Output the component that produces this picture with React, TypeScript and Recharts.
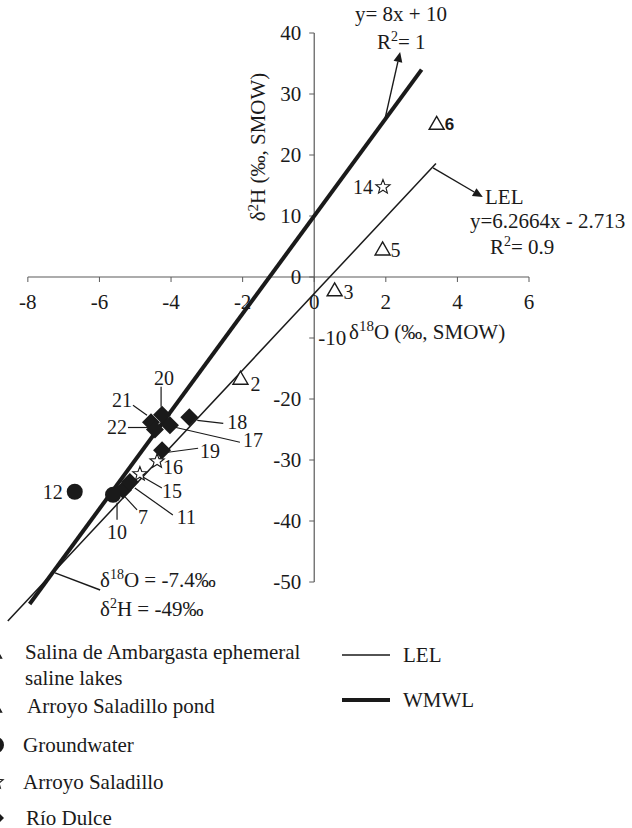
import React from 'react'
import { ScatterChart, Scatter, XAxis, YAxis, ReferenceLine, ReferenceDot } from 'recharts'

const SERIF = "'Liberation Serif', 'Times New Roman', serif"
const SANS = "'Liberation Sans', Arial, sans-serif"
const INK = '#1a1a1a'
const AXIS = '#5a5a5a'

// axis ticks
const xTicks = [-8, -6, -4, -2, 0, 2, 4, 6]
const yTicks = [-50, -40, -30, -20, -10, 0, 10, 20, 30, 40]

// samples: id, δ18O, δ2H
const lakeIds = ['2', '3', '5']
const lakeO18 = [-2.06, 0.57, 1.91]
const lakeH2 = [-16.6, -2.1, 4.6]

const pondIds = ['6']
const pondO18 = [3.42]
const pondH2 = [25.2]

const gwIds = ['10', '12']
const gwO18 = [-5.62, -6.69]
const gwH2 = [-35.7, -35.2]

const arroyoIds = ['14', '15', '16']
const arroyoO18 = [1.92, -4.87, -4.39]
const arroyoH2 = [14.75, -32.3, -30.2]

const dulceIds = ['7', '11', '17', '18', '19', '20', '21', '22']
const dulceO18 = [-5.34, -5.15, -4.03, -3.49, -4.25, -4.25, -4.56, -4.45]
const dulceH2 = [-34.9, -33.6, -24.3, -23.0, -28.4, -22.6, -23.8, -25.0]

// line end points
const wmwlO18 = [-7.95, 3.0]
const wmwlH2 = [-53.6, 34.0]
const lelO18 = [-8.56, 3.4]
const lelH2 = [-56.4, 18.6]

const legendNames = ['Salina de Ambargasta ephemeral|saline lakes', 'Arroyo Saladillo pond', 'Groundwater', 'Arroyo Saladillo', 'Río Dulce']
const lineLegend = ['LEL', 'WMWL']

const pts = (ids: string[], o: number[], h: number[]) => ids.map((id, i) => ({ id, x: o[i], y: h[i] }))
const seg = (o: number[], h: number[]) => o.map((x, i) => ({ x, y: h[i] }))

// label placement, pixels from the point centre
type Lbl = { dx: number; dy: number; anchor?: 'start' | 'middle' | 'end'; lead?: number[]; sans?: boolean }
const LABELS: Record<string, Lbl> = {
  '2': { dx: 10, dy: 13 },
  '3': { dx: 9, dy: 9 },
  '5': { dx: 8, dy: 8 },
  '6': { dx: 8, dy: 7, sans: true },
  '14': { dx: -10, dy: 7, anchor: 'end' },
  '12': { dx: -12, dy: 7, anchor: 'end' },
  '20': { dx: 2, dy: -30, anchor: 'middle', lead: [-1, -28, -1, -8] },
  '21': { dx: -19, dy: -15, anchor: 'end', lead: [-18, -17, -4, -7] },
  '22': { dx: -28, dy: 4, anchor: 'end', lead: [-27, -2, -7, -2] },
  '17': { dx: 73, dy: 22, lead: [5, 2, 70, 17] },
  '18': { dx: 38, dy: 12, lead: [8, 3, 34, 6] },
  '19': { dx: 38, dy: 8, lead: [6, 2, 36, -2] },
  '16': { dx: 6, dy: 13 },
  '15': { dx: 22, dy: 24, lead: [3, 3, 22, 14] },
  '11': { dx: 47, dy: 42, lead: [5, 6, 43, 33] },
  '7': { dx: 15, dy: 34, lead: [2, 7, 14, 20] },
  '10': { dx: 4, dy: 44, anchor: 'middle', lead: [4, 8, 4, 25] },
}

function SampleLabel({ id, cx, cy }: { id: string; cx: number; cy: number }) {
  const l = LABELS[id]
  if (!l) return null
  return (
    <g>
      {l.lead && (
        <line x1={cx + l.lead[0]} y1={cy + l.lead[1]} x2={cx + l.lead[2]} y2={cy + l.lead[3]} stroke={INK} strokeWidth={1.2} />
      )}
      <text
        x={cx + l.dx}
        y={cy + l.dy}
        textAnchor={l.anchor || 'start'}
        fontFamily={l.sans ? SANS : SERIF}
        fontSize={l.sans ? 17 : 20}
        fontWeight={l.sans ? 'bold' : 'normal'}
        fill={INK}
      >
        {id}
      </text>
    </g>
  )
}

const trianglePath = (cx: number, cy: number) => `M${cx},${cy - 7} L${cx + 7.5},${cy + 6} L${cx - 7.5},${cy + 6} Z`
const diamondPath = (cx: number, cy: number, r: number) => `M${cx},${cy - r} L${cx + r},${cy} L${cx},${cy + r} L${cx - r},${cy} Z`
const starPath = (cx: number, cy: number, R: number, r: number) => {
  let d = ''
  for (let i = 0; i < 10; i++) {
    const rad = i % 2 === 0 ? R : r
    const a = -Math.PI / 2 + (i * Math.PI) / 5
    d += `${i === 0 ? 'M' : 'L'}${cx + rad * Math.cos(a)},${cy + rad * Math.sin(a)} `
  }
  return d + 'Z'
}

const TriangleShape = (p: any) => (
  <g>
    <path d={trianglePath(p.cx, p.cy)} fill="#fff" stroke={INK} strokeWidth={1.4} />
    <SampleLabel id={p.payload.id} cx={p.cx} cy={p.cy} />
  </g>
)
const CircleShape = (p: any) => (
  <g>
    <circle cx={p.cx} cy={p.cy} r={8} fill={INK} />
    <SampleLabel id={p.payload.id} cx={p.cx} cy={p.cy} />
  </g>
)
const StarShape = (p: any) => (
  <g>
    <path d={starPath(p.cx, p.cy, 7.5, 3.2)} fill="#fff" stroke={INK} strokeWidth={1.1} />
    <SampleLabel id={p.payload.id} cx={p.cx} cy={p.cy} />
  </g>
)
const DiamondShape = (p: any) => (
  <g>
    <path d={diamondPath(p.cx, p.cy, 9)} fill={INK} />
    <SampleLabel id={p.payload.id} cx={p.cx} cy={p.cy} />
  </g>
)
const NoDot = () => <g />

const XTick = (p: any, v: number) => (
  <g>
    <line x1={p.cx} y1={p.cy} x2={p.cx} y2={p.cy + 5} stroke={AXIS} strokeWidth={1} />
    <text x={p.cx} y={p.cy + 32} textAnchor="middle" fontFamily={SERIF} fontSize={21} fill={INK}>{v}</text>
  </g>
)
const YTick = (p: any, v: number) => (
  <g>
    <line x1={p.cx - 5} y1={p.cy} x2={p.cx} y2={p.cy} stroke={AXIS} strokeWidth={1} />
    {v === -10 ? (
      <text x={p.cx + 4} y={p.cy + 7} textAnchor="start" fontFamily={SERIF} fontSize={21} fill={INK}>{v}</text>
    ) : (
      <text x={p.cx - 13} y={p.cy + 7} textAnchor="end" fontFamily={SERIF} fontSize={21} fill={INK}>{v}</text>
    )}
  </g>
)

const Arrow = (p: any) => {
  const { x1, y1, x2, y2 } = p
  const a = Math.atan2(y2 - y1, x2 - x1)
  const L = 10
  const W = 4.5
  const bx = x2 - L * Math.cos(a)
  const by = y2 - L * Math.sin(a)
  const nx = -Math.sin(a) * W
  const ny = Math.cos(a) * W
  return (
    <g>
      <line x1={x1} y1={y1} x2={bx} y2={by} stroke={INK} strokeWidth={1.4} />
      <path d={`M${x2},${y2} L${bx + nx},${by + ny} L${bx - nx},${by - ny} Z`} fill={INK} />
    </g>
  )
}

// annotation pointers (data coordinates)
const wmwlArrow = [{ x: 1.98, y: 26.0 }, { x: 2.4, y: 36.9 }]
const lelArrow = [{ x: 3.32, y: 17.9 }, { x: 4.71, y: 13.1 }]
const interPointer = [{ x: -7.24, y: -48.5 }, { x: -5.98, y: -51.3 }]

function LegendSymbol({ i, cy }: { i: number; cy: number }) {
  const cx = -4
  if (i === 0 || i === 1) return <path d={trianglePath(cx - 2, cy)} fill="#fff" stroke={INK} strokeWidth={1.4} />
  if (i === 2) return <circle cx={cx} cy={cy} r={8} fill={INK} />
  if (i === 3) return <path d={starPath(cx, cy, 7.5, 3.2)} fill="#fff" stroke={INK} strokeWidth={1.1} />
  return <path d={diamondPath(cx, cy, 8)} fill={INK} />
}

const legendRows = [652, 706, 745, 782, 818]
const legendX = [25, 27, 23, 23, 26]

export default function App() {
  return (
    <div style={{ position: 'absolute', left: 0, top: 0, width: 632, height: 828, background: '#fff' }}>
      <ScatterChart width={632} height={828} margin={{ top: 33, right: 103, bottom: 185, left: 1 }}>
        <XAxis type="number" dataKey="x" domain={[-8.75, 6]} allowDataOverflow hide />
        <YAxis type="number" dataKey="y" domain={[-60, 40]} allowDataOverflow hide />

        <ReferenceLine segment={[{ x: -8, y: 0 }, { x: 6, y: 0 }]} stroke={AXIS} strokeWidth={1.2} />
        <ReferenceLine segment={[{ x: 0, y: -50 }, { x: 0, y: 40 }]} stroke={AXIS} strokeWidth={1.2} />
        {xTicks.map((t) => (
          <ReferenceDot key={'x' + t} x={t} y={0} r={0} shape={(p: any) => XTick(p, t)} />
        ))}
        {yTicks.map((t) => (
          <ReferenceDot key={'y' + t} x={0} y={t} r={0} shape={(p: any) => YTick(p, t)} />
        ))}

        <Scatter data={seg(lelO18, lelH2)} line={{ stroke: INK, strokeWidth: 1.5 }} shape={NoDot} isAnimationActive={false} />
        <Scatter data={seg(wmwlO18, wmwlH2)} line={{ stroke: INK, strokeWidth: 4 }} shape={NoDot} isAnimationActive={false} />

        <ReferenceLine segment={wmwlArrow} shape={Arrow} />
        <ReferenceLine segment={lelArrow} shape={Arrow} />
        <ReferenceLine segment={interPointer} stroke={INK} strokeWidth={1.5} />

        <Scatter data={pts(lakeIds, lakeO18, lakeH2)} shape={TriangleShape} isAnimationActive={false} />
        <Scatter data={pts(pondIds, pondO18, pondH2)} shape={TriangleShape} isAnimationActive={false} />
        <Scatter data={pts(gwIds, gwO18, gwH2)} shape={CircleShape} isAnimationActive={false} />
        <Scatter data={pts(arroyoIds, arroyoO18, arroyoH2)} shape={StarShape} isAnimationActive={false} />
        <Scatter data={pts(dulceIds, dulceO18, dulceH2)} shape={DiamondShape} isAnimationActive={false} />
      </ScatterChart>

      <svg width={632} height={828} style={{ position: 'absolute', left: 0, top: 0, pointerEvents: 'none' }}>
        <g fontFamily={SERIF} fill={INK}>
          <text transform="translate(265,147) rotate(-90)" textAnchor="middle" fontSize={21}>
            δ<tspan dy={-7} fontSize={15}>2</tspan><tspan dy={7}>H (‰, SMOW)</tspan>
          </text>
          <text x={349} y={339} fontSize={21}>
            δ<tspan dy={-8} fontSize={15}>18</tspan><tspan dy={8}>O (‰, SMOW)</tspan>
          </text>

          <text x={355} y={21} fontSize={21}>y= 8x + 10</text>
          <text x={377} y={49} fontSize={21}>
            R<tspan dy={-8} fontSize={14}>2</tspan><tspan dy={8}>= 1</tspan>
          </text>
          <text x={485} y={204} fontSize={21}>LEL</text>
          <text x={470} y={228} fontSize={21}>y=6.2664x - 2.713</text>
          <text x={490} y={254} fontSize={21}>
            R<tspan dy={-8} fontSize={14}>2</tspan><tspan dy={8}>= 0.9</tspan>
          </text>

          <text x={100} y={587} fontSize={21}>
            δ<tspan dy={-8} fontSize={14}>18</tspan><tspan dy={8}>O = -7.4‰</tspan>
          </text>
          <text x={100} y={616} fontSize={21}>
            δ<tspan dy={-8} fontSize={14}>2</tspan><tspan dy={8}>H = -49‰</tspan>
          </text>

          {legendNames.map((name, i) => (
            <g key={name}>
              <LegendSymbol i={i} cy={legendRows[i]} />
              {name.split('|').map((part, j) => (
                <text key={part} x={legendX[i]} y={legendRows[i] + 7 + j * 26} fontSize={21}>{part}</text>
              ))}
            </g>
          ))}
          {lineLegend.map((name, i) => (
            <g key={name}>
              <line x1={342} x2={390} y1={655 + i * 45} y2={655 + i * 45} stroke={INK} strokeWidth={i === 0 ? 1.5 : 4} />
              <text x={403} y={662 + i * 45} fontSize={21}>{name}</text>
            </g>
          ))}
        </g>
      </svg>
    </div>
  )
}
